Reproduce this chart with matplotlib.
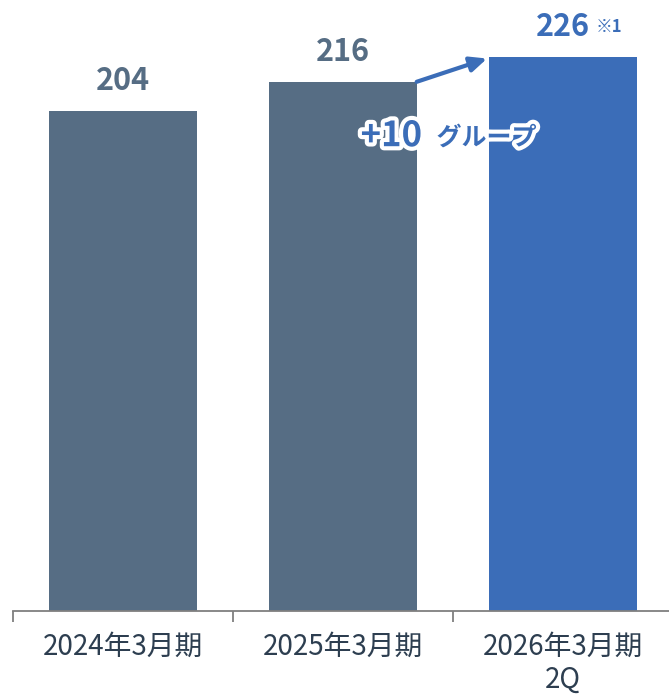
import matplotlib
matplotlib.use("Agg")
import matplotlib.pyplot as plt
import matplotlib.patheffects as pe

plt.rcParams['font.family'] = ['Noto Sans CJK JP', 'DejaVu Sans']

# data
categories = ['2024年3月期', '2025年3月期', '2026年3月期\n2Q']
values = [204, 216, 226]
bar_colors = ['#566d84', '#566d84', '#3b6db8']
label_colors = ['#566d84', '#566d84', '#3b6db8']
note = '※1'
delta_text = '+10'
delta_unit = 'グループ'

W, H = 669, 694
fig = plt.figure(figsize=(W / 100, H / 100), dpi=100)
# axes spans 13..673 px horizontally, baseline at y=611 px
ax = fig.add_axes([13 / W, (H - 611) / H, 660 / W, 611 / H])
ax.set_xlim(-0.5, 2.5)
ax.set_ylim(0, 611 / 2.45)

x = range(len(values))
ax.bar(x, values, width=0.67, color=bar_colors)

for i, v in enumerate(values):
    ax.annotate(str(v), (i, v), xytext=(0, 10), textcoords='offset points',
                ha='center', va='bottom', fontsize=22, fontweight='bold',
                color=label_colors[i])

ax.annotate(note, (2, values[2]), xytext=(33, 22), textcoords='offset points',
            ha='center', va='center', fontsize=12, fontweight='bold',
            color='#3b6db8')

# growth arrow from bar 2 top-right to bar 3 top-left
ax.annotate('', xy=(2 - 0.335 - 0.01, values[2] - 0.5), xytext=(1 + 0.335, values[1]),
            arrowprops=dict(arrowstyle='-|>,head_length=1.0,head_width=0.45',
                            color='#3b6db8', lw=3, shrinkA=0, shrinkB=0))

stroke = [pe.withStroke(linewidth=6, foreground='white')]
ax.text(1.08, 194, delta_text, ha='left', va='center', fontsize=25,
        fontweight='bold', color='#3b6db8', path_effects=stroke)
ax.text(1.425, 193, delta_unit, ha='left', va='center', fontsize=18,
        fontweight='bold', color='#3b6db8', path_effects=stroke)

for s in ['top', 'right', 'left']:
    ax.spines[s].set_visible(False)
ax.spines['bottom'].set_color('#7f7f7f')
ax.spines['bottom'].set_linewidth(1.3)
ax.set_yticks([])
ax.set_xticks([-0.5, 0.5, 1.5], minor=False)
ax.set_xticklabels([])
ax.tick_params(axis='x', length=8, width=1.3, color='#7f7f7f')
ax.set_xticks(list(x), minor=True)
ax.set_xticklabels(categories, minor=True, fontsize=20, color='#2d3e50',
                   linespacing=1.15)
ax.tick_params(axis='x', which='minor', length=0, pad=15)

fig.savefig('out.png', dpi=100)
